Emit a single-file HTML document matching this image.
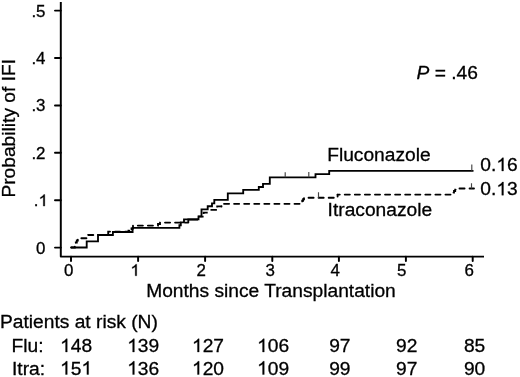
<!DOCTYPE html>
<html>
<head>
<meta charset="utf-8">
<style>
html,body{margin:0;padding:0;background:#fff;width:520px;height:377px;overflow:hidden}
svg{display:block;filter:grayscale(1)}
text{font-family:"Liberation Sans",sans-serif;fill:#000;stroke:#000;stroke-width:0.3px}
.h{fill:none;stroke:none}
.ones path{stroke-width:0.3px;vector-effect:non-scaling-stroke}
</style>
</head>
<body>
<svg width="520" height="377" viewBox="0 0 520 377">
<rect width="520" height="377" fill="#fff"/>
<!-- axes -->
<g stroke="#000" stroke-width="1.95" fill="none" stroke-linecap="butt" stroke-linejoin="round">
<path d="M60.8,2 V256.6 H484"/>
<path stroke-linecap="round" d="M55,10.6 H60.8 M55,58 H60.8 M55,105.4 H60.8 M55,152.8 H60.8 M55,200.2 H60.8 M55,247.6 H60.8"/>
<path stroke-linecap="round" d="M71,256.6 V261 M138.1,256.6 V261 M205.1,256.6 V261 M272.3,256.6 V261 M338.9,256.6 V261 M405.9,256.6 V261 M472.7,256.6 V261"/>
</g>
<!-- curves -->
<g fill="none" stroke="#000" stroke-width="1.85" stroke-linejoin="miter" stroke-linecap="butt">
<path d="M71,247.5 H86.7 V241.3 H98 V235 H112.9 V232 H132.6 V227.9 H179.4 V225.2 H180.8 V222.3 H184 V219.3 H198.5 V216.3 H201.5 V209.4 H207.7 V206.2 H212 V203.3 H214.3 V199.8 H227.8 V193.4 H243.2 V189.9 H258.8 V187 H263 V183.8 H269.8 V177.4 H315.5 V174.1 H329.2 V170.9 H473.5"/>
<path stroke-linecap="round" stroke-dasharray="5.1 4.97" stroke-dashoffset="0.5" d="M71,247.5 H74.8 V244.5 H75.8 V242.5 H76.8 V240.5 H77.8 V238.2 H88.3 V235 H108.2 V231.6 H128.5 V230.7 H131.5"/>
<path stroke-linecap="round" stroke-dasharray="5.1 4.97" stroke-dashoffset="8.74" d="M131.5,230.7 V228.5 H133 V225.6 H158 V224 H160 V222.6 H188.3"/>
<path d="M188.3,222.6 V219.5 H198 M198,216.6 H203.6 M203.6,214 V212.6 H207.7 M210.5,209.9 H216.9 M217.2,207.4 V206.4 H221.5"/>
<path stroke-linecap="round" stroke-dasharray="5.1 4.97" stroke-dashoffset="4.87" d="M221.5,206.5 V203.8 H301.2 V202.3 H302.2 V200.7 H303.1 V199.2 H304 V197.7 H337.6 V194.6"/>
<path stroke-linecap="round" stroke-dasharray="5.1 4.97" stroke-dashoffset="2.92" d="M337.6,194.6 H453 V192.6 H454 V191 H455.2 V189.6 H456.4 V188.5 H474"/>
</g>
<g stroke="#444" stroke-width="1.15" fill="none">
<path d="M285.2,172.3 V177.2 M308.8,172 V177.2 M471.8,164.5 V170.7 M318.5,192.2 V197.7 M471.5,183.2 V188.5"/>
</g>
<text id="t0" font-size="16.9" x="45.5" y="16.5" text-anchor="end">.5</text>
<text id="t1" font-size="16.9" x="45.5" y="63.9" text-anchor="end">.4</text>
<text id="t2" font-size="16.9" x="45.5" y="111.3" text-anchor="end">.3</text>
<text id="t3" font-size="16.9" x="45.5" y="158.7" text-anchor="end">.2</text>
<text id="t4" font-size="16.9" x="47.9" y="206.1" text-anchor="end">.<tspan class="h">1</tspan></text>
<text id="t5" font-size="16.9" x="45.5" y="253.5" text-anchor="end">0</text>
<text id="t6" font-size="16.9" x="64" y="275.8">0</text>
<text id="t7" font-size="16.9" x="130.4" y="275.8"><tspan class="h">1</tspan></text>
<text id="t8" font-size="16.9" x="196.5" y="275.8">2</text>
<text id="t9" font-size="16.9" x="265.5" y="275.8">3</text>
<text id="t10" font-size="16.9" x="330.5" y="275.8">4</text>
<text id="t11" font-size="16.9" x="397" y="275.8">5</text>
<text id="t12" font-size="16.9" x="464.5" y="275.8">6</text>
<text id="t13" font-size="19.2" x="146.2" y="297">Months since Transplantation</text>
<text id="t14" font-size="19.2" transform="translate(15.1,197.6) rotate(-90)">Probability of IFI</text>
<text id="t15" font-size="19.2" x="416.5" y="79"><tspan font-style="italic">P</tspan> = .46</text>
<text id="t16" font-size="19.2" x="327.2" y="160.8">Fluconazole</text>
<text id="t17" font-size="19.2" x="327.6" y="216.3">Itraconazole</text>
<text id="t18" font-size="19.2" x="480.3" y="171">0.<tspan class="h">1</tspan>6</text>
<text id="t19" font-size="19.2" x="480.3" y="195.2">0.<tspan class="h">1</tspan>3</text>
<text id="t20" font-size="19.2" x="0" y="327.7">Patients at risk (N)</text>
<text id="t21" font-size="19.2" x="11.5" y="352">Flu:</text>
<text id="t22" font-size="19.2" x="12" y="374.5">Itra:</text>
<text id="t23" font-size="19.2" x="60.1" y="352"><tspan class="h">1</tspan>48</text>
<text id="t24" font-size="19.2" x="60.1" y="374.5"><tspan class="h">1</tspan>5<tspan class="h">1</tspan></text>
<text id="t25" font-size="19.2" x="127.2" y="352"><tspan class="h">1</tspan>39</text>
<text id="t26" font-size="19.2" x="127.2" y="374.5"><tspan class="h">1</tspan>36</text>
<text id="t27" font-size="19.2" x="192" y="352"><tspan class="h">1</tspan>27</text>
<text id="t28" font-size="19.2" x="192" y="374.5"><tspan class="h">1</tspan>20</text>
<text id="t29" font-size="19.2" x="257.1" y="352"><tspan class="h">1</tspan>06</text>
<text id="t30" font-size="19.2" x="257.1" y="374.5"><tspan class="h">1</tspan>09</text>
<text id="t31" font-size="19.2" x="329.2" y="352">97</text>
<text id="t32" font-size="19.2" x="329.2" y="374.5">99</text>
<text id="t33" font-size="19.2" x="396" y="352">92</text>
<text id="t34" font-size="19.2" x="396" y="374.5">97</text>
<text id="t35" font-size="19.2" x="463.9" y="352">85</text>
<text id="t36" font-size="19.2" x="463.9" y="374.5">90</text>
<g class="ones" fill="#000" stroke="#000">
<path transform="translate(38.49,206.10) scale(0.008252,-0.008252)" d="M763,0 H583 V1098 Q518,1038.5 412.5,979 Q307,920 223,890 V1057 Q374,1125 487,1221 Q600,1318 647,1409 H763 Z"/>
<path transform="translate(130.40,275.80) scale(0.008252,-0.008252)" d="M763,0 H583 V1098 Q518,1038.5 412.5,979 Q307,920 223,890 V1057 Q374,1125 487,1221 Q600,1318 647,1409 H763 Z"/>
<path transform="translate(496.32,171.00) scale(0.009375,-0.009375)" d="M763,0 H583 V1098 Q518,1038.5 412.5,979 Q307,920 223,890 V1057 Q374,1125 487,1221 Q600,1318 647,1409 H763 Z"/>
<path transform="translate(496.32,195.20) scale(0.009375,-0.009375)" d="M763,0 H583 V1098 Q518,1038.5 412.5,979 Q307,920 223,890 V1057 Q374,1125 487,1221 Q600,1318 647,1409 H763 Z"/>
<path transform="translate(60.10,352.00) scale(0.009375,-0.009375)" d="M763,0 H583 V1098 Q518,1038.5 412.5,979 Q307,920 223,890 V1057 Q374,1125 487,1221 Q600,1318 647,1409 H763 Z"/>
<path transform="translate(60.10,374.50) scale(0.009375,-0.009375)" d="M763,0 H583 V1098 Q518,1038.5 412.5,979 Q307,920 223,890 V1057 Q374,1125 487,1221 Q600,1318 647,1409 H763 Z"/>
<path transform="translate(81.44,374.50) scale(0.009375,-0.009375)" d="M763,0 H583 V1098 Q518,1038.5 412.5,979 Q307,920 223,890 V1057 Q374,1125 487,1221 Q600,1318 647,1409 H763 Z"/>
<path transform="translate(127.20,352.00) scale(0.009375,-0.009375)" d="M763,0 H583 V1098 Q518,1038.5 412.5,979 Q307,920 223,890 V1057 Q374,1125 487,1221 Q600,1318 647,1409 H763 Z"/>
<path transform="translate(127.20,374.50) scale(0.009375,-0.009375)" d="M763,0 H583 V1098 Q518,1038.5 412.5,979 Q307,920 223,890 V1057 Q374,1125 487,1221 Q600,1318 647,1409 H763 Z"/>
<path transform="translate(192.00,352.00) scale(0.009375,-0.009375)" d="M763,0 H583 V1098 Q518,1038.5 412.5,979 Q307,920 223,890 V1057 Q374,1125 487,1221 Q600,1318 647,1409 H763 Z"/>
<path transform="translate(192.00,374.50) scale(0.009375,-0.009375)" d="M763,0 H583 V1098 Q518,1038.5 412.5,979 Q307,920 223,890 V1057 Q374,1125 487,1221 Q600,1318 647,1409 H763 Z"/>
<path transform="translate(257.10,352.00) scale(0.009375,-0.009375)" d="M763,0 H583 V1098 Q518,1038.5 412.5,979 Q307,920 223,890 V1057 Q374,1125 487,1221 Q600,1318 647,1409 H763 Z"/>
<path transform="translate(257.10,374.50) scale(0.009375,-0.009375)" d="M763,0 H583 V1098 Q518,1038.5 412.5,979 Q307,920 223,890 V1057 Q374,1125 487,1221 Q600,1318 647,1409 H763 Z"/>
</g>
</svg>
</body>
</html>
